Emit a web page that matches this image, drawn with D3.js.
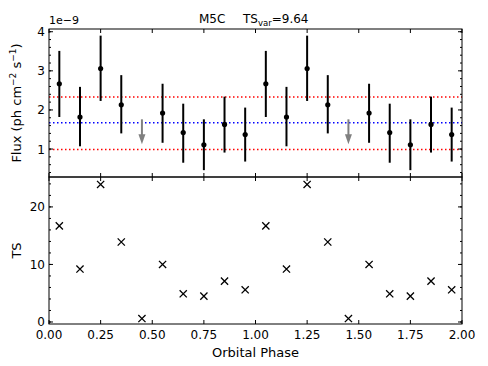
<!DOCTYPE html>
<html><head><meta charset="utf-8">
<script src="https://cdn.jsdelivr.net/npm/d3@7"></script>
<style>body{margin:0;background:#fff;} text{font-family:"DejaVu Sans",sans-serif;}</style>
</head><body>
<svg id="c" width="488" height="366"></svg>
<script>
const phases = [0.05,0.15,0.25,0.35,0.45,0.55,0.65,0.75,0.85,0.95];
const flux   = [2.67,1.82,3.06,2.13,null,1.92,1.42,1.11,1.63,1.37];
const fluxHi = [3.51,2.59,3.90,2.89,null,2.67,2.16,1.76,2.34,2.06];
const fluxLo = [1.82,1.07,2.23,1.40,null,1.16,0.65,0.46,0.91,0.68];
const ulPhase = [0.45];
const ulTop = [1.76];
const ulTip = [1.12];
const ts = [16.7,9.2,23.9,13.9,0.6,10.0,4.9,4.5,7.1,5.6];
const meanFlux = 1.67, bandHi = 2.33, bandLo = 0.99;
const xTicks = [0,0.25,0.5,0.75,1,1.25,1.5,1.75,2];
const fluxTicks = [1,2,3,4];
const tsTicks = [0,10,20];

const svg = d3.select("#c");
const L=49, R=462, T1=29, B1=177, T2=177, B2=324;
const x = d3.scaleLinear().domain([0,2]).range([L,R]);
const y1 = d3.scaleLinear().domain([0.285,4.07]).range([B1,T1]);
const y2 = d3.scaleLinear().domain([-0.35,25.2]).range([B2,T2]);

// duplicate over two orbits
const ph2 = phases.concat(phases.map(p=>p+1));
const pts = ph2.map((p,i)=>({p, f:flux[i%10], hi:fluxHi[i%10], lo:fluxLo[i%10], ts:ts[i%10]}));
const uls = ulPhase.concat(ulPhase.map(p=>p+1)).map((p,i)=>({p, top:ulTop[i%1], tip:ulTip[i%1]}));

const g = svg.append("g");
// reference lines
[[bandHi,"#ff0000"],[meanFlux,"#0000ff"],[bandLo,"#ff0000"]].forEach(([v,c])=>{
  g.append("line").attr("x1",L).attr("x2",R).attr("y1",y1(v)).attr("y2",y1(v))
   .attr("stroke",c).attr("stroke-width",1.5).attr("stroke-dasharray","1.5,2.5");
});
// error bars
const fp = pts.filter(d=>d.f!==null);
g.selectAll(".eb").data(fp).enter().append("line")
 .attr("x1",d=>x(d.p)).attr("x2",d=>x(d.p)).attr("y1",d=>y1(d.hi)).attr("y2",d=>y1(d.lo))
 .attr("stroke","#000").attr("stroke-width",2);
g.selectAll(".pt").data(fp).enter().append("circle")
 .attr("cx",d=>x(d.p)).attr("cy",d=>y1(d.f)).attr("r",2.6).attr("fill","#000");
// upper limits
uls.forEach(d=>{
  const xx=x(d.p), yt=y1(d.top), yb=y1(d.tip);
  g.append("line").attr("x1",xx).attr("x2",xx).attr("y1",yt).attr("y2",yb-6)
   .attr("stroke","#808080").attr("stroke-width",2);
  g.append("path").attr("d",`M${xx-3.5},${yb-10} L${xx+3.5},${yb-10} L${xx},${yb} Z`).attr("fill","#808080");
});
// TS markers
pts.forEach(d=>{
  const xx=x(d.p), yy=y2(d.ts), s=3.6;
  g.append("path").attr("d",`M${xx-s},${yy-s}L${xx+s},${yy+s}M${xx-s},${yy+s}L${xx+s},${yy-s}`)
   .attr("stroke","#000").attr("stroke-width",1.3).attr("fill","none");
});

function ticksX(top,bottom,labels){
  xTicks.forEach(v=>{
    svg.append("line").attr("x1",x(v)).attr("x2",x(v)).attr("y1",bottom).attr("y2",bottom-4).attr("stroke","#000");
    svg.append("line").attr("x1",x(v)).attr("x2",x(v)).attr("y1",top).attr("y2",top+4).attr("stroke","#000");
  });
  if(labels){
    svg.append("g").selectAll("text").data(xTicks).enter().append("text")
     .attr("x",d=>x(d)).attr("y",bottom+15).attr("text-anchor","middle").attr("font-size",12)
     .text(d=>d3.format(".2f")(d));
  }
}
function ticksY(sc,major,minorStep,labels){
  const [d0,d1]=sc.domain();
  const minor=d3.range(Math.ceil(d0/minorStep)*minorStep,d1,minorStep);
  minor.forEach(v=>{
    const yy=sc(v);
    svg.append("line").attr("x1",L).attr("x2",L+2).attr("y1",yy).attr("y2",yy).attr("stroke","#000");
    svg.append("line").attr("x1",R).attr("x2",R-2).attr("y1",yy).attr("y2",yy).attr("stroke","#000");
  });
  major.forEach(v=>{
    const yy=sc(v);
    svg.append("line").attr("x1",L).attr("x2",L+4).attr("y1",yy).attr("y2",yy).attr("stroke","#000");
    svg.append("line").attr("x1",R).attr("x2",R-4).attr("y1",yy).attr("y2",yy).attr("stroke","#000");
    svg.append("text").attr("x",L-4).attr("y",yy+4.5).attr("text-anchor","end").attr("font-size",12).text(labels(v));
  });
}
ticksX(T1,B1,false);
ticksX(T2,B2,true);
ticksY(y1,fluxTicks,0.2,v=>v);
ticksY(y2,tsTicks,2,v=>v);

svg.append("rect").attr("x",L).attr("y",T1).attr("width",R-L).attr("height",B1-T1).attr("fill","none").attr("stroke","#000").attr("stroke-width",1);
svg.append("rect").attr("x",L).attr("y",T2).attr("width",R-L).attr("height",B2-T2).attr("fill","none").attr("stroke","#000").attr("stroke-width",1);

svg.append("text").attr("x",L).attr("y",24).attr("font-size",11).text("1e\u22129");
// title
svg.append("text").attr("x",199).attr("y",23).attr("font-size",12).text("M5C");
const tt = svg.append("text").attr("x",243).attr("y",23).attr("font-size",12);
tt.append("tspan").text("TS");
tt.append("tspan").attr("font-size",8.5).attr("dy",3).text("var");
tt.append("tspan").attr("dy",-3).text("=9.64");
const yl = svg.append("text").attr("transform",`translate(21,${(T1+B1)/2}) rotate(-90)`).attr("text-anchor","middle").attr("font-size",13);
yl.append("tspan").text("Flux (ph cm");
yl.append("tspan").attr("font-size",9).attr("dy",-5).text("\u22122");
yl.append("tspan").attr("dy",5).text(" s");
yl.append("tspan").attr("font-size",9).attr("dy",-5).text("\u22121");
yl.append("tspan").attr("dy",5).text(")");
svg.append("text").attr("transform",`translate(21,${(T2+B2)/2}) rotate(-90)`).attr("text-anchor","middle").attr("font-size",13).text("TS");
svg.append("text").attr("x",(L+R)/2).attr("y",357).attr("text-anchor","middle").attr("font-size",13).text("Orbital Phase");
</script>
</body></html>
